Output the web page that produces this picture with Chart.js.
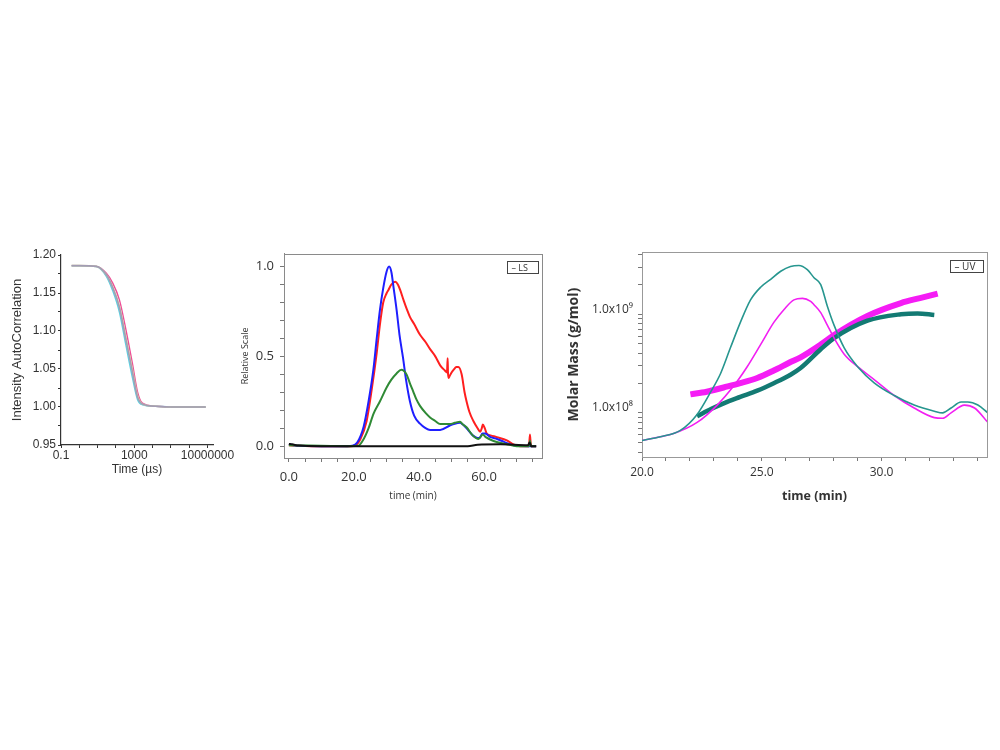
<!DOCTYPE html>
<html>
<head>
<meta charset="utf-8">
<script src="https://cdn.jsdelivr.net/npm/chart.js@4.4.0/dist/chart.umd.min.js"></script>
<style>
body { margin: 0; background: #fff; width: 1000px; height: 750px; overflow: hidden; }
.panel { position: absolute; }
</style>
</head>
<body>
<div class="panel" style="left:0;top:240px"><canvas id="acf" width="250" height="245"></canvas></div>
<div class="panel" style="left:240px;top:240px"><canvas id="ls" width="320" height="270"></canvas></div>
<div class="panel" style="left:560px;top:240px"><canvas id="mm" width="440" height="270"></canvas></div>
<script>
// ---- panel 1 : intensity autocorrelation ----
var acfTime = [0.38, 1, 8.5, 30, 67, 155, 355, 810, 1510, 2800, 15000, 100000, 1000000, 8000000];
var acfPink = [1.186, 1.186, 1.185, 1.176, 1.163, 1.141, 1.101, 1.056, 1.020, 1.005, 1.001, 1.000, 1.000, 1.000];
var acfCyan = [1.186, 1.186, 1.185, 1.172, 1.153, 1.125, 1.081, 1.038, 1.010, 1.003, 1.001, 1.000, 1.000, 1.000];
var acfGrey = [1.186, 1.186, 1.185, 1.174, 1.157, 1.131, 1.088, 1.045, 1.013, 1.004, 1.001, 1.000, 1.000, 1.000];
var acfKhaki = [1.186, 1.186, 1.185, 1.174, 1.158, 1.133, 1.091, 1.048, 1.015, 1.004, 1.001, 1.000, 1.000, 1.000];
var acfXTicks = [0.1, 1, 10, 100, 1000, 10000, 100000, 1000000, 10000000];
var acfXLabels = {0.1: '0.1', 1000: '1000', 10000000: '10000000'};
var acfYTicks = [0.95, 0.975, 1.0, 1.025, 1.05, 1.075, 1.1, 1.125, 1.15, 1.175, 1.2];

// ---- panel 2 : LS relative scale ----
var blueT = [0, 2, 10, 18, 19.5, 21, 23, 24.5, 26, 27, 28, 29, 30, 30.8, 31.5, 32.2, 33.1, 34, 35.1, 36, 37.2, 38.5, 40.3, 42, 43.4, 46.5, 49.5, 51, 52.6, 53.5, 54.6, 56.5, 58, 58.8, 59.5, 60.3, 62, 64, 66, 68, 70, 74, 76];
var blueV = [0.01, 0.003, 0, 0, 0.002, 0.02, 0.11, 0.25, 0.43, 0.6, 0.76, 0.88, 0.97, 1.0, 0.97, 0.88, 0.76, 0.62, 0.49, 0.37, 0.25, 0.17, 0.125, 0.1, 0.09, 0.09, 0.115, 0.125, 0.13, 0.12, 0.1, 0.06, 0.045, 0.05, 0.07, 0.07, 0.05, 0.04, 0.025, 0.01, 0.002, 0, 0];
var redT = [0, 7, 19, 20.3, 22, 23.9, 25.5, 27, 28, 29, 30, 30.6, 31.5, 32.7, 33.5, 34.2, 35.3, 36.3, 37.2, 38.5, 40.3, 42, 43.4, 45, 46.5, 48, 48.6, 48.8, 48.9, 49.1, 49.4, 50, 50.6, 51.5, 52.1, 53.1, 54, 54.6, 55.5, 56.7, 58, 58.8, 59.3, 59.6, 60.2, 60.8, 62, 63.9, 67, 69, 71, 73.8, 74.1, 74.4, 76];
var redV = [0.005, 0, 0, 0.003, 0.04, 0.14, 0.32, 0.52, 0.68, 0.8, 0.85, 0.87, 0.9, 0.916, 0.9, 0.87, 0.81, 0.76, 0.72, 0.68, 0.62, 0.58, 0.54, 0.5, 0.45, 0.42, 0.41, 0.49, 0.41, 0.38, 0.39, 0.41, 0.425, 0.44, 0.44, 0.4, 0.3, 0.25, 0.19, 0.14, 0.1, 0.08, 0.1, 0.12, 0.1, 0.07, 0.06, 0.05, 0.032, 0.01, 0, 0, 0.065, 0, 0];
var greenT = [0, 18, 21.3, 23, 24.5, 26, 28, 30, 31.5, 33.1, 34.6, 35.3, 36.2, 37.2, 38.2, 39.2, 40.3, 42, 43.4, 45, 46.5, 49.5, 51, 52.6, 53.5, 54.6, 56.5, 58.3, 59.6, 60.5, 62.9, 67, 70, 73.8, 74.1, 74.4, 76];
var greenV = [0.005, 0, 0.002, 0.04, 0.1, 0.18, 0.25, 0.325, 0.37, 0.405, 0.425, 0.42, 0.398, 0.35, 0.305, 0.26, 0.224, 0.185, 0.16, 0.14, 0.123, 0.123, 0.13, 0.136, 0.12, 0.105, 0.06, 0.04, 0.065, 0.05, 0.029, 0.011, 0, 0, 0.03, 0, 0];
var blackT = [0, 1, 3, 10, 55, 58, 65, 73.5, 74, 74.5, 76];
var blackV = [0.012, 0.01, 0.003, 0, 0, 0.008, 0.01, 0.005, 0.02, 0, 0];
var lsXTicks = [0, 5, 10, 15, 20, 25, 30, 35, 40, 45, 50, 55, 60, 65, 70, 75];
var lsYTicks = [0, 0.1, 0.2, 0.3, 0.4, 0.5, 0.6, 0.7, 0.8, 0.9, 1.0];

// ---- panel 3 : molar mass ----
var uvTealT = [20, 20.77, 21.6, 22.3, 22.86, 23.28, 23.69, 24.11, 24.53, 24.95, 25.37, 25.79, 26.2, 26.55, 26.9, 27.18, 27.46, 27.74, 28.02, 28.44, 29.0, 29.69, 30.53, 31.36, 32.2, 32.55, 32.9, 33.32, 33.6, 34.02, 34.44];
var uvTealM = [5.25e7, 5.73e7, 6.64e7, 9.64e7, 1.62e8, 2.51e8, 4.57e8, 8.32e8, 1.4e9, 1.88e9, 2.26e9, 2.73e9, 3.05e9, 3.12e9, 2.83e9, 2.35e9, 2.0e9, 1.2e9, 7.71e8, 4.57e8, 2.94e8, 2.02e8, 1.5e8, 1.2e8, 1.04e8, 1.0e8, 1.12e8, 1.29e8, 1.29e8, 1.2e8, 1.0e8];
var uvPinkT = [20, 20.77, 21.32, 22.3, 23.14, 23.83, 24.39, 24.95, 25.51, 25.93, 26.34, 26.7, 27.04, 27.18, 27.46, 27.74, 28.02, 28.44, 29.0, 29.69, 30.53, 31.36, 32.2, 32.55, 32.9, 33.46, 33.88, 34.44];
var uvPinkM = [5.25e7, 5.73e7, 6.17e7, 8.0e7, 1.2e8, 1.88e8, 2.94e8, 4.93e8, 8.32e8, 1.12e9, 1.4e9, 1.45e9, 1.35e9, 1.25e9, 1.04e9, 7.71e8, 5.73e8, 3.94e8, 2.94e8, 2.18e8, 1.5e8, 1.12e8, 8.95e7, 8.81e7, 1.0e8, 1.2e8, 1.12e8, 8.0e7];
var mmPinkT = [22.02, 22.7, 23.41, 24.1, 24.81, 25.5, 26.2, 26.62, 27.46, 28.02, 29.41, 30.81, 31.6, 32.34];
var mmPinkM = [1.54e8, 1.64e8, 1.81e8, 2.0e8, 2.26e8, 2.69e8, 3.28e8, 3.66e8, 4.93e8, 6.17e8, 9.64e8, 1.3e9, 1.46e9, 1.62e9];
var mmTealT = [22.3, 22.9, 23.41, 24.1, 24.81, 25.5, 26.2, 26.62, 27.46, 28.02, 29.41, 30.81, 31.5, 32.2];
var mmTealM = [9.27e7, 1.1e8, 1.25e8, 1.45e8, 1.68e8, 2.0e8, 2.44e8, 2.85e8, 4.42e8, 5.73e8, 8.61e8, 1.0e9, 1.02e9, 9.84e8];
var mmXTicks = [20, 21, 22, 23, 24, 25, 26, 27, 28, 29, 30, 31, 32, 33, 34];
var mmYTicks = [4e7, 5e7, 6e7, 7e7, 8e7, 9e7, 1e8, 2e8, 3e8, 4e8, 5e8, 6e8, 7e8, 8e8, 9e8, 1e9, 2e9, 3e9, 4e9];
var mmYLabels = {100000000: '1.0x10\u2078', 1000000000: '1.0x10\u2079'};

function pts(xs, ys) {
	return xs.map(function(x, i) { return {x: x, y: ys[i]}; });
}

function line(label, xs, ys, color, width) {
	return {
		label: label,
		data: pts(xs, ys),
		borderColor: color,
		borderWidth: width,
		pointRadius: 0,
		cubicInterpolationMode: 'monotone',
		fill: false
	};
}

// box round the plot area, plus the little "— LS" style tag
var frame = {
	id: 'frame',
	beforeDatasetsDraw: function(chart, args, opts) {
		if (!opts.color) return;
		var a = chart.chartArea, c = chart.ctx;
		c.save();
		c.strokeStyle = opts.color;
		c.lineWidth = 1;
		c.strokeRect(Math.round(a.left) + 0.5, Math.round(a.top) + 0.5, Math.round(a.right - a.left), Math.round(a.bottom - a.top));
		c.restore();
	},
	afterDraw: function(chart, args, opts) {
		if (!opts.tag) return;
		var a = chart.chartArea, c = chart.ctx;
		var w = opts.tagWidth, h = 12;
		var x = Math.round(a.right - 4 - w) + 0.5, y = Math.round(a.top + opts.tagTop) + 0.5;
		c.save();
		c.fillStyle = '#fff';
		c.fillRect(x, y, w, h);
		c.strokeStyle = '#444';
		c.lineWidth = 1;
		c.strokeRect(x, y, w, h);
		c.fillStyle = '#333';
		c.font = opts.tagFont;
		c.textBaseline = 'middle';
		c.fillText('\u2013 ' + opts.tag, x + 4, y + h / 2 + 0.5);
		c.restore();
	}
};

Chart.defaults.animation = false;
Chart.defaults.plugins.legend.display = false;
Chart.defaults.plugins.tooltip.enabled = false;

// panel 1
new Chart(document.getElementById('acf').getContext('2d'), {
	type: 'line',
	data: {
		datasets: [
			line('grey', acfTime, acfGrey, '#a39cb4', 1.6),
			line('khaki', acfTime, acfKhaki, '#d9d6a0', 1.6),
			line('cyan', acfTime, acfCyan, '#5fcfe0', 1.5),
			line('pink', acfTime, acfPink, '#ee4d97', 1.4)
		]
	},
	options: {
		responsive: false,
		layout: {padding: {top: 15, right: 37, left: 0, bottom: 0}},
		scales: {
			x: {
				type: 'logarithmic',
				min: 0.1,
				max: 2e7,
				afterBuildTicks: function(s) { s.ticks = acfXTicks.map(function(v) { return {value: v}; }); },
				afterFit: function(s) { s.height = 40; },
				border: {color: '#333', width: 1.2},
				grid: {drawOnChartArea: false, tickLength: 3, color: '#333'},
				ticks: {
					autoSkip: false, maxRotation: 0, padding: 0, color: '#333',
					font: {family: 'Liberation Sans', size: 12},
					callback: function(v) { return acfXLabels[v] || ''; }
				},
				title: {display: true, text: 'Time (\u00b5s)', color: '#333', font: {family: 'Liberation Sans', size: 12}, padding: {top: 0, bottom: 8}}
			},
			y: {
				min: 0.95,
				max: 1.2,
				afterBuildTicks: function(s) { s.ticks = acfYTicks.map(function(v) { return {value: v}; }); },
				afterFit: function(s) { s.width = 61; },
				border: {color: '#333', width: 1.2},
				grid: {drawOnChartArea: false, tickLength: 3, color: '#333'},
				ticks: {
					autoSkip: false, padding: 2, color: '#333',
					font: {family: 'Liberation Sans', size: 12},
					callback: function(v) {
						var k = Math.round(v * 1000);
						return k % 50 === 0 ? (k / 1000).toFixed(2) : '';
					}
				},
				title: {display: true, text: 'Intensity AutoCorrelation', color: '#333', font: {family: 'Liberation Sans', size: 13}, padding: {top: 10, bottom: 0}}
			}
		}
	}
});

// panel 2
new Chart(document.getElementById('ls').getContext('2d'), {
	type: 'line',
	data: {
		datasets: [
			line('black', blackT, blackV, '#111', 2),
			line('green', greenT, greenV, '#2f8a35', 2),
			line('blue', blueT, blueV, '#1f1fff', 2),
			line('red', redT, redV, '#ff1f1f', 2)
		]
	},
	options: {
		responsive: false,
		layout: {padding: {top: 10, right: 18, left: 0, bottom: 0}},
		plugins: {frame: {color: '#8a8a8a', tag: 'LS', tagWidth: 31, tagTop: 7, tagFont: '9px "Open Sans"'}},
		scales: {
			x: {
				type: 'linear',
				min: -1.5,
				max: 77.8,
				afterBuildTicks: function(s) { s.ticks = lsXTicks.map(function(v) { return {value: v}; }); },
				afterFit: function(s) { s.height = 52; },
				border: {color: '#8a8a8a'},
				grid: {drawOnChartArea: false, tickLength: 4, color: '#777'},
				ticks: {
					autoSkip: false, maxRotation: 0, padding: 7, color: '#333',
					font: {family: 'Open Sans', size: 13},
					callback: function(v) { return v % 20 === 0 ? v.toFixed(1) : ''; }
				},
				title: {display: true, text: 'time (min)', color: '#333', font: {family: 'Open Sans', size: 10}, padding: {top: 0, bottom: 8}}
			},
			y: {
				min: -0.066,
				max: 1.071,
				afterBuildTicks: function(s) { s.ticks = lsYTicks.map(function(v) { return {value: v}; }); },
				afterFit: function(s) { s.width = 44; },
				border: {color: '#8a8a8a'},
				grid: {drawOnChartArea: false, tickLength: 4, color: '#777'},
				ticks: {
					autoSkip: false, padding: 6, color: '#333',
					font: {family: 'Open Sans', size: 13},
					callback: function(v) {
						var k = Math.round(v * 10);
						return k % 5 === 0 ? (k / 10).toFixed(1) : '';
					}
				},
				title: {display: true, text: 'Relative Scale', color: '#333', font: {family: 'Open Sans', size: 9}, padding: {top: 0, bottom: 0}}
			}
		}
	},
	plugins: [frame]
});

// panel 3
new Chart(document.getElementById('mm').getContext('2d'), {
	type: 'line',
	data: {
		datasets: [
			line('UV teal', uvTealT, uvTealM, '#27968f', 1.6),
			line('UV magenta', uvPinkT, uvPinkM, '#f21ff2', 1.6),
			line('molar mass teal', mmTealT, mmTealM, '#137a73', 4.5),
			line('molar mass magenta', mmPinkT, mmPinkM, '#f51cf5', 6)
		]
	},
	options: {
		responsive: false,
		layout: {padding: {top: 5, right: 13, left: 0, bottom: 0}},
		plugins: {frame: {color: '#999', tag: 'UV', tagWidth: 33, tagTop: 8, tagFont: '10px "Open Sans"'}},
		scales: {
			x: {
				type: 'linear',
				min: 20,
				max: 34.4,
				afterBuildTicks: function(s) { s.ticks = mmXTicks.map(function(v) { return {value: v}; }); },
				afterFit: function(s) { s.height = 53; },
				border: {color: '#999'},
				grid: {drawOnChartArea: false, tickLength: 4, color: '#777'},
				ticks: {
					autoSkip: false, maxRotation: 0, padding: 4, color: '#333',
					font: {family: 'Open Sans', size: 12},
					callback: function(v) { return v % 5 === 0 ? v.toFixed(1) : ''; }
				},
				title: {display: true, text: 'time (min)', color: '#333', font: {family: 'Open Sans', size: 12.5, weight: 'bold'}, padding: {top: 0, bottom: 6}}
			},
			y: {
				type: 'logarithmic',
				min: 3.57e7,
				max: 4.26e9,
				afterBuildTicks: function(s) { s.ticks = mmYTicks.map(function(v) { return {value: v}; }); },
				afterFit: function(s) { s.width = 82; },
				border: {color: '#999'},
				grid: {drawOnChartArea: false, tickLength: 4, color: '#777'},
				ticks: {
					autoSkip: false, padding: 5, labelOffset: -5, color: '#333',
					font: {family: 'Open Sans', size: 12},
					callback: function(v) { return mmYLabels[v] || ''; }
				},
				title: {display: true, text: 'Molar Mass (g/mol)', color: '#333', font: {family: 'Open Sans', size: 14, weight: 'bold'}, padding: {top: 6, bottom: 0}}
			}
		}
	},
	plugins: [frame]
});
</script>
</body>
</html>
